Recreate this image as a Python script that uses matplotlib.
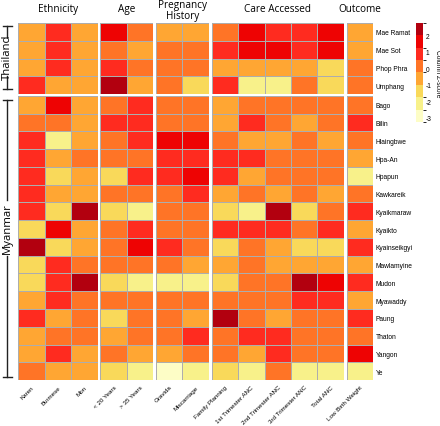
import numpy as np
import matplotlib
matplotlib.use("Agg")
import matplotlib.pyplot as plt
from matplotlib.colors import ListedColormap, BoundaryNorm
from matplotlib.colorbar import ColorbarBase
from matplotlib.lines import Line2D

# ---------------- data ----------------
regions = ["Mae Ramat", "Mae Sot", "Phop Phra", "Umphang",
           "Bago", "Bilin", "Hlaingbwe", "Hpa-An", "Hpapun", "Kawkareik",
           "Kyaikmaraw", "Kyaikto", "Kyainseikgyi", "Mawlamyine", "Mudon",
           "Myawaddy", "Paung", "Thaton", "Yangon", "Ye"]
n_thailand = 4

group_names = ["Ethnicity", "Age", "Pregnancy\nHistory", "Care Accessed", "Outcome"]
ethnicity_cols = ["Karen", "Burmese", "Mon"]
age_cols = ["< 20 Years", "> 35 Years"]
pregnancy_cols = ["Gravida", "Miscarriage"]
care_cols = ["Family Planning", "1st Trimester ANC", "2nd Trimester ANC",
             "3rd Trimester ANC", "Total ANC"]
outcome_cols = ["Low Birth Weight"]

ethnicity = [
    [-0.6, 0.9, -0.6], [-0.6, 0.9, -0.6], [-0.6, 0.9, -0.6], [0.9, -0.6, -0.6],
    [-0.6, 1.6, -0.6], [0.1, 0.1, -0.6], [0.9, -2.1, -0.6], [0.9, -0.6, 0.1],
    [0.9, -1.4, -0.6], [0.9, -0.6, -0.6], [0.9, -1.4, 2.4], [-1.4, 1.6, -0.6],
    [2.4, -1.4, -0.6], [-1.4, 0.9, 0.1], [-1.4, 0.9, 2.4], [-0.6, 0.9, 0.1],
    [0.9, -0.6, 0.1], [-0.6, 0.1, 0.1], [-0.6, 0.9, -0.6], [0.1, -0.6, -0.6]]

age = [
    [1.6, 0.1], [0.1, -0.6], [0.9, 0.1], [2.4, -0.6],
    [0.1, 0.9], [0.9, 0.9], [0.1, 0.9], [0.1, 0.1],
    [-1.4, 0.9], [0.1, 0.1], [-1.4, -2.1], [0.1, 0.9],
    [0.1, 1.6], [0.1, 0.1], [-1.4, -2.1], [0.1, 0.1],
    [-1.4, 0.1], [-0.6, 0.1], [0.1, -0.6], [-1.4, -2.1]]

pregnancy = [
    [-0.6, -0.6], [0.1, 0.1], [0.1, 0.1], [0.1, -1.4],
    [0.1, 0.1], [0.1, 0.1], [1.6, 1.6], [0.9, 0.9],
    [0.9, 1.6], [0.1, 0.9], [0.1, 0.1], [0.1, 0.1],
    [0.9, 0.1], [0.1, -0.6], [-2.1, -2.1], [0.1, 0.1],
    [0.1, -0.6], [0.1, 0.9], [-0.6, 0.1], [-2.9, -2.1]]

care = [
    [0.1, 1.6, 0.9, 0.9, 1.6], [0.9, 1.6, 1.6, 0.9, 1.6],
    [-0.6, -0.6, -0.6, -0.6, -1.4], [0.9, -2.1, -2.1, 0.1, -1.4],
    [-0.6, 0.1, 0.1, 0.1, 0.1], [-0.6, 0.9, 0.1, -0.6, 0.1],
    [0.1, -0.6, -0.6, 0.1, -0.6], [0.9, 0.9, 0.1, 0.1, 0.1],
    [0.9, -0.6, 0.1, 0.1, 0.1], [-0.6, 0.1, -0.6, 0.1, -0.6],
    [-1.4, -2.1, 2.4, -1.4, 0.1], [0.9, 0.9, 0.9, 0.1, 0.9],
    [-1.4, 0.1, -0.6, -1.4, -1.4], [-0.6, 0.1, -0.6, -0.6, -0.6],
    [-1.4, 0.1, 0.1, 2.4, 1.6], [0.1, 0.1, 0.1, 0.9, 0.9],
    [2.4, 0.1, -0.6, 0.1, 0.1], [0.1, 0.9, 0.9, 0.1, 0.1],
    [0.1, -0.6, 0.9, 0.1, 0.1], [-1.4, -2.1, 0.1, -2.1, -2.1]]

outcome = [[-0.6], [-0.6], [0.1], [0.1], [0.1], [0.9], [0.1], [-0.6], [-2.1], [0.1],
           [0.9], [-0.6], [0.9], [-0.6], [0.9], [-0.6], [0.9], [0.1], [1.6], [-2.1]]

colour_bounds = [-3.25, -2.5, -1.75, -1.0, -0.25, 0.5, 1.25, 2.0, 2.8]
colour_list = ["#FDFDC6", "#F8F18A", "#F9D95A", "#FFA633", "#FF7426",
               "#FF2B1F", "#EE0303", "#B2000F"]
cbar_ticks = [-3, -2, -1, 0, 1, 2]

# ---------------- plot ----------------
plt.rcParams['font.family'] = ['Liberation Sans', 'DejaVu Sans']
cmap = ListedColormap(colour_list)
norm = BoundaryNorm(colour_bounds, cmap.N)

fig = plt.figure(figsize=(4.40, 4.27), dpi=100)
gs = fig.add_gridspec(2, 5, left=0.0416, right=0.848, top=0.9438, bottom=0.1077,
                      width_ratios=[3, 2, 2, 5, 1], height_ratios=[4, 16],
                      wspace=0.04, hspace=0.011)

groups = [(ethnicity, ethnicity_cols), (age, age_cols), (pregnancy, pregnancy_cols),
          (care, care_cols), (outcome, outcome_cols)]
row_slices = [slice(0, n_thailand), slice(n_thailand, len(regions))]

header_font = ['Open Sans', 'DejaVu Sans']
for r, rs in enumerate(row_slices):
    for c, (vals, cols) in enumerate(groups):
        ax = fig.add_subplot(gs[r, c])
        arr = np.array(vals)[rs]
        nr, nc = arr.shape
        ax.pcolormesh(np.arange(nc + 1), np.arange(nr + 1), arr, cmap=cmap, norm=norm,
                      edgecolors='#ADADAD', linewidth=0.6)
        ax.set_xlim(0, nc)
        ax.set_ylim(nr, 0)
        for s in ax.spines.values():
            s.set_visible(False)
        ax.tick_params(length=0)
        if r == 1:
            ax.set_xticks(np.arange(nc) + 0.5)
            ax.set_xticklabels(cols, rotation=45, ha='right', rotation_mode='anchor',
                               fontsize=4.5)
            ax.tick_params(axis='x', pad=3)
        else:
            ax.set_xticks([])
            off = 9.2 if '\n' in group_names[c] else 10.4
            ax.annotate(group_names[c], xy=(0.5, 1.0), xycoords='axes fraction',
                        xytext=(0, off), textcoords='offset points', ha='center',
                        va='center', fontsize=7.2, family=header_font, linespacing=1.05)
        if c == len(groups) - 1:
            ax.yaxis.tick_right()
            ax.set_yticks(np.arange(nr) + 0.5)
            ax.set_yticklabels(regions[rs], fontsize=4.8)
            ax.tick_params(axis='y', pad=2)
        else:
            ax.set_yticks([])

# colour key
cax = fig.add_axes([0.9455, 0.712, 0.0159, 0.232])
cb = ColorbarBase(cax, cmap=cmap, norm=norm, boundaries=colour_bounds,
                  ticks=cbar_ticks, orientation='vertical')
cb.outline.set_visible(False)
cax.tick_params(length=0, labelsize=4.8, pad=2)
cax.set_yticklabels([str(t) for t in cbar_ticks])
fig.text(437.5 / 440, 1 - 73.5 / 427, 'Column Z-score', rotation=270, fontsize=4.8,
         ha='center', va='center')

# country brackets (annotation overlay in pixel units)
ov = fig.add_axes([0, 0, 1, 1], facecolor='none')
ov.set_xlim(0, 440)
ov.set_ylim(427, 0)
ov.axis('off')
for top, bot, t0, t1, name, yc in [(27, 90, 38, 77, "Thailand", 57.5),
                                   (101, 378, 201, 257, "Myanmar", 229)]:
    ov.add_line(Line2D([7, 7], [top, t0], color='#222222', lw=1.0))
    ov.add_line(Line2D([7, 7], [t1, bot], color='#222222', lw=1.0))
    ov.add_line(Line2D([2.5, 11.5], [top, top], color='#222222', lw=1.0))
    ov.add_line(Line2D([2.5, 11.5], [bot, bot], color='#222222', lw=1.0))
    ov.text(7.5, yc, name, rotation=90, ha='center', va='center', fontsize=8.2,
            family=header_font)

fig.savefig('out.png', dpi=100)
